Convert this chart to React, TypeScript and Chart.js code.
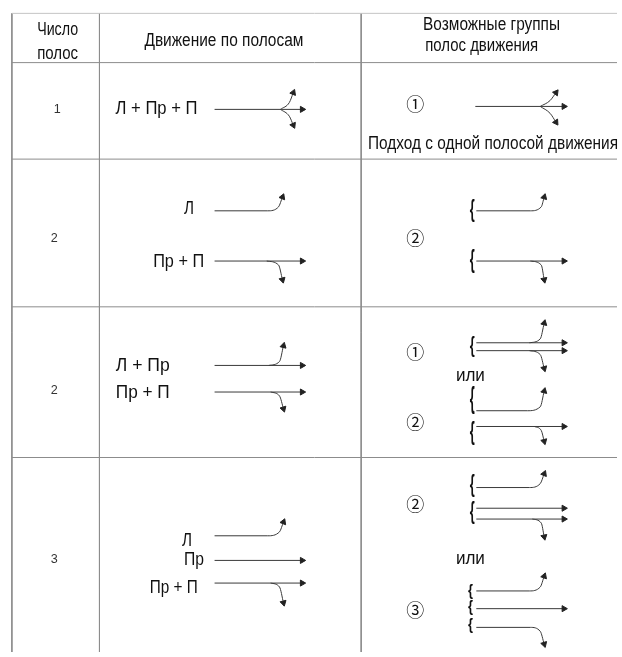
import { useEffect, useRef } from 'react';
import { Chart, registerables } from 'chart.js';

Chart.register(...registerables);

const W = 622;
const H = 657;

// ---- table rules ----
const rowRulesY = [8.5, 58.5, 156.5, 306.5, 459.5];
const colRulesX = [7, 96, 362];

// ---- header ----
const headerTexts = ['Число', 'полос', 'Движение по полосам', 'Возможные группы', 'полос движения'];
const headerX = [53.5, 53.5, 222.5, 494.5, 484.5];
const headerY = [30, 55, 42, 25, 47];
const headerW = [41, 41, 159, 137, 113];

// ---- row numbers (число полос) ----
const rowNumbers = ['1', '2', '2', '3'];
const rowNumberX = [53, 50, 50, 50];
const rowNumberY = [110, 241, 395, 567];

// ---- lane labels (движение по полосам) ----
const laneLabels = ['Л + Пр + П', 'Л', 'Пр + П', 'Л + Пр', 'Пр + П', 'Л', 'Пр', 'Пр + П'];
const laneLabelX = [154, 187, 176.5, 140, 140, 185, 192, 171.5];
const laneLabelY = [111, 212, 266, 372, 399, 549, 569, 597];
const laneLabelW = [82, 10, 51, 54, 54, 10, 20, 48];

// ---- group numbers ----
const groupNumbers = ['①', '②', '①', '②', '②', '③'];
const groupNumberY = [99.5, 236, 351, 423, 506, 613];
const groupNumberX = [417, 417, 417, 417, 417, 417];

const orWords = ['или', 'или'];
const orX = [473, 473];
const orY = [382, 568];

const captionText = 'Подход с одной полосой движения';
const captionX = 496;
const captionY = 146;
const captionW = 250;

// ---- braces ----
const braceX = [475, 475, 475, 475, 475, 475, 475, 473, 473, 473];
const braceY = [208.5, 260, 347, 401.5, 434.5, 488.5, 516, 595.5, 612.5, 630];
const braceH = [23, 24, 20, 27, 25, 23, 22, 15, 15, 16];

// ---- straight (through) lanes: [x start, x arrow, y] ----
const throughLanes: [number, number, number][] = [
  [213, 302, 106], [478, 568, 103],
  [213, 302, 260], [479, 568, 260],
  [213, 302, 366], [213, 302, 393], [479, 568, 343], [479, 568, 351], [479, 568, 428],
  [213, 302, 564], [213, 302, 587], [479, 568, 511], [479, 568, 522], [479, 568, 613],
];

// ---- turning paths (points along the curve, last = arrow) ----
const turnPaths: [number, number][][] = [
  // row 1
  [[280, 106], [289, 99], [293, 89]],
  [[280, 106], [289, 113], [293, 122]],
  [[544, 103], [554, 97], [560, 89]],
  [[544, 103], [554, 110], [560, 119]],
  // row 2
  [[213, 209], [267, 209], [278, 205], [282, 195]],
  [[266, 260], [278, 264], [282, 279]],
  [[479, 209], [534, 209], [545, 205], [548, 195]],
  [[534, 260], [545, 264], [548, 279]],
  // row 3
  [[268, 366], [279, 362], [283, 346]],
  [[270, 393], [279, 397], [283, 410]],
  [[533, 343], [544, 339], [548, 323]],
  [[533, 351], [544, 355], [548, 369]],
  [[479, 412], [531, 412], [544, 408], [548, 392]],
  [[538, 428], [545, 432], [548, 443]],
  // row 4
  [[213, 539], [267, 539], [279, 535], [283, 525]],
  [[270, 587], [279, 591], [283, 607]],
  [[479, 490], [533, 490], [544, 486], [548, 476]],
  [[536, 522], [545, 526], [548, 540]],
  [[479, 595], [533, 595], [544, 591], [548, 580]],
  [[479, 632], [534, 632], [544, 636], [548, 649]],
];

const FONT = '"Liberation Sans", Arial, sans-serif';
const RULE = '#8c8c8c';
const INK = '#3a3a3a';

function buildDatasets() {
  const ds: any[] = [];
  rowRulesY.forEach((y, i) => {
    ds.push({
      data: [{ x: colRulesX[0], y }, { x: W, y }],
      showLine: true, borderColor: i === 0 ? '#c4c4c4' : RULE, borderWidth: 1,
      pointRadius: 0, clip: false,
    });
  });
  colRulesX.forEach((x) => {
    ds.push({
      data: [{ x, y: rowRulesY[0] }, { x, y: H }],
      showLine: true, borderColor: RULE, borderWidth: 1, pointRadius: 0, clip: false,
    });
  });
  throughLanes.forEach(([x0, x1, y]) => {
    ds.push({
      data: [{ x: x0, y }, { x: x1, y }],
      showLine: true, borderColor: INK, borderWidth: 1,
      pointStyle: 'triangle',
      pointRadius: (c: any) => (c.dataIndex === 1 ? 3.5 : 0),
      pointRotation: 90,
      pointBackgroundColor: '#222', pointBorderColor: '#222', pointBorderWidth: 1,
      clip: false,
    });
  });
  turnPaths.forEach((path) => {
    const n = path.length;
    const [ax, ay] = path[n - 2];
    const [bx, by] = path[n - 1];
    const rot = (Math.atan2(bx - ax, -(by - ay)) * 180) / Math.PI;
    ds.push({
      data: path.map(([x, y]) => ({ x, y })),
      showLine: true, borderColor: INK, borderWidth: 1,
      cubicInterpolationMode: 'monotone',
      pointStyle: 'triangle',
      pointRadius: (c: any) => (c.dataIndex === n - 1 ? 3.5 : 0),
      pointRotation: rot,
      pointBackgroundColor: '#222', pointBorderColor: '#222', pointBorderWidth: 1,
      clip: false,
    });
  });
  return ds;
}

const textPlugin = {
  id: 'diagramText',
  afterDatasetsDraw(chart: any) {
    const ctx = chart.ctx as CanvasRenderingContext2D;
    const sx = chart.scales.x;
    const sy = chart.scales.y;
    const px = (v: number) => sx.getPixelForValue(v);
    const py = (v: number) => sy.getPixelForValue(v);
    ctx.save();
    ctx.textAlign = 'center';
    ctx.textBaseline = 'alphabetic';
    ctx.fillStyle = '#111';

    const txt = (t: string, x: number, y: number, size: number, w?: number, weight = 'normal') => {
      ctx.font = `${weight} ${size}px ${FONT}`;
      if (w) ctx.fillText(t, px(x), py(y), w);
      else ctx.fillText(t, px(x), py(y));
    };

    headerTexts.forEach((t, i) => txt(t, headerX[i], headerY[i], 18, headerW[i]));
    ctx.fillStyle = '#333';
    rowNumbers.forEach((t, i) => txt(t, rowNumberX[i], rowNumberY[i], 13, 7));
    ctx.fillStyle = '#111';
    laneLabels.forEach((t, i) => txt(t, laneLabelX[i], laneLabelY[i], 18, laneLabelW[i]));
    txt(captionText, captionX, captionY, 18, captionW);
    orWords.forEach((t, i) => txt(t, orX[i], orY[i], 18, 29));

    ctx.textBaseline = 'middle';
    ctx.font = `18px "Noto Sans CJK JP", "DejaVu Sans", sans-serif`;
    groupNumbers.forEach((t, i) => ctx.fillText(t, px(groupNumberX[i]), py(groupNumberY[i]) + 1));

    ctx.textBaseline = 'alphabetic';
    braceY.forEach((cy, i) => {
      const size = braceH[i] / 0.94;
      ctx.font = `bold ${size}px ${FONT}`;
      ctx.fillText('{', px(braceX[i]), py(cy) + 0.26 * size, 5);
    });
    ctx.restore();
  },
};

export default function App() {
  const ref = useRef<HTMLCanvasElement>(null);
  useEffect(() => {
    document.body.style.margin = '0';
    const chart = new Chart(ref.current as HTMLCanvasElement, {
      type: 'scatter',
      data: { datasets: buildDatasets() },
      options: {
        responsive: false,
        animation: false,
        events: [],
        layout: { padding: 0 },
        scales: {
          x: { type: 'linear', min: 0, max: W, display: false },
          y: { type: 'linear', min: 0, max: H, reverse: true, display: false },
        },
        plugins: { legend: { display: false }, tooltip: { enabled: false } },
      },
      plugins: [textPlugin],
    } as any);
    return () => chart.destroy();
  }, []);
  return <canvas ref={ref} width={W} height={H} style={{ display: 'block', width: W, height: H }} />;
}
